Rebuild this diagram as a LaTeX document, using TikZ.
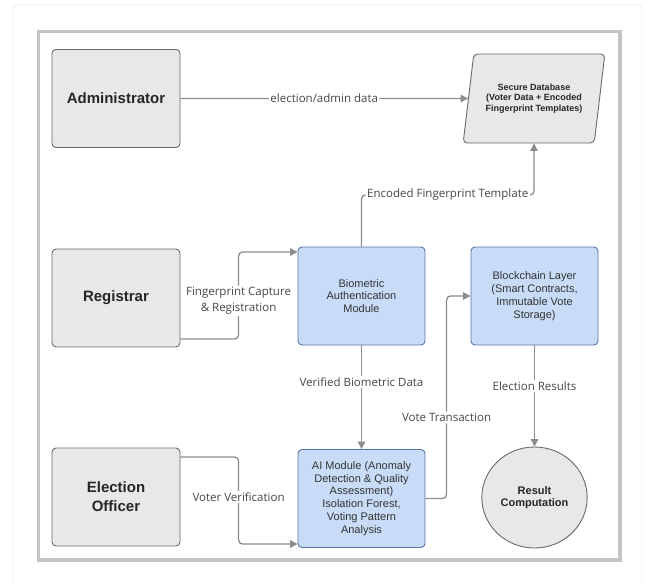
\documentclass[tikz,border=0pt]{standalone}
\usepackage{fontspec}
\setmainfont{Liberation Sans}
\newfontfamily\edgefont{Open Sans}
\usetikzlibrary{positioning, arrows.meta, shapes.geometric}
\definecolor{boxgray}{RGB}{232,232,232}
\definecolor{linegray}{RGB}{105,105,105}
\definecolor{bluefill}{RGB}{200,220,248}
\definecolor{blueline}{RGB}{88,116,165}
\definecolor{arrowgray}{RGB}{140,140,140}
\definecolor{framegray}{RGB}{196,196,196}

\begin{document}
\begin{tikzpicture}[x=1pt,y=-1pt,>={Triangle[length=7.5pt,width=7.5pt]},
  actor/.style={draw=linegray, fill=boxgray, rounded corners=4pt, line width=0.9pt, minimum width=128pt, minimum height=98pt, align=center, text=black!85, font=\fontsize{15}{19}\selectfont\bfseries},
  module/.style={draw=blueline, fill=bluefill, rounded corners=4pt, line width=0.9pt, minimum width=127pt, minimum height=98pt, align=center, text=black!80, font=\fontsize{11}{12.8}\selectfont},
  store/.style={trapezium, trapezium left angle=76, trapezium right angle=104, trapezium stretches=true, draw=linegray, fill=boxgray, rounded corners=4pt, line width=0.9pt, minimum width=142pt, minimum height=89pt, align=center, text=black!85, font=\fontsize{9}{10.8}\selectfont\bfseries},
  flow/.style={->, draw=arrowgray, line width=1.3pt, rounded corners=4pt},
  lbl/.style={fill=white, inner sep=1.5pt, align=center, text=black!72, font=\edgefont\fontsize{11.5}{16}\selectfont}]
  \useasboundingbox (0,0) rectangle (652,583);
  \draw[black!6, line width=0.8pt, rounded corners=3pt] (13,5) rectangle (642,600);
  \draw[framegray, line width=3.5pt] (38.3,31.3) rectangle (620,560);

  \node[actor] (admin) at (116,98.5) {Administrator};
  \node[actor] (registrar) at (116,298) {Registrar};
  \node[actor] (officer) at (116,497) {Election\\Officer};

  \node[store] (dbase) at (534,98.5) {Secure Database\\(Voter Data + Encoded\\Fingerprint Templates)};
  \node[module] (bio) at (361.5,296) {Biometric\\Authentication\\Module};
  \node[module] (chain) at (534.5,296) {Blockchain Layer\\(Smart Contracts,\\Immutable Vote\\Storage)};
  \node[module] (ai) at (361.5,498.5) {AI Module (Anomaly\\Detection \& Quality\\Assessment)\\Isolation Forest,\\Voting Pattern\\Analysis};
  \node[ellipse, draw=linegray, fill=boxgray, line width=0.9pt, minimum width=97pt, minimum height=101pt, align=center, text=black!85, font=\fontsize{11}{12.5}\selectfont\bfseries] (result) at (534.5,497.5) {Result\\Computation};

  \coordinate (enctop) at (534,195);

  \draw[flow] (admin) -- node[lbl] {election/admin data} (dbase);
  \draw[flow] (bio.north) |- node[lbl, pos=.75] {Encoded Fingerprint Template} (enctop) -- (dbase);
  \draw[flow] ([yshift=-41pt]registrar.east) -| node[lbl, pos=.72] {Fingerprint Capture\\\& Registration} ([xshift=-59pt,yshift=44pt]bio.west) -- ([yshift=44pt]bio.west);
  \draw[flow] ([yshift=40pt]officer.east) -| node[lbl, pos=.73] {Voter Verification} ([xshift=-59pt,yshift=-45.5pt]ai.west) -- ([yshift=-45.5pt]ai.west);
  \draw[flow] (bio) -- node[lbl, pos=.35] {Verified Biometric Data} (ai);
  \draw[flow] (ai.east) -| node[lbl, pos=.70] {Vote Transaction} ([xshift=-24pt]chain.west) -- (chain.west);
  \draw[flow] (chain) -- node[lbl, pos=.4] {Election Results} (result);
\end{tikzpicture}
\end{document}
